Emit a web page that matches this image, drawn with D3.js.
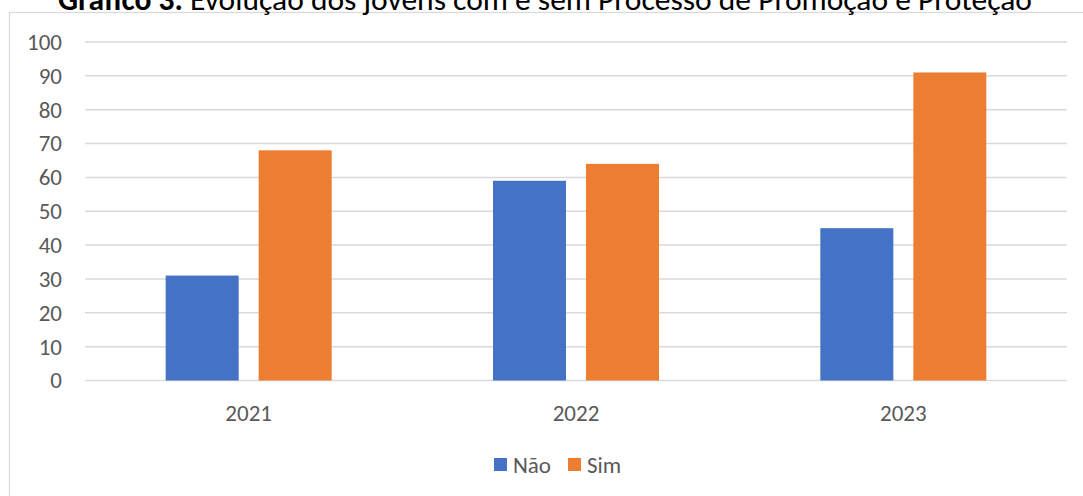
<!DOCTYPE html>
<html>
<head>
<meta charset="utf-8">
<script src="https://cdn.jsdelivr.net/npm/d3@7"></script>
<style>
  html, body { margin: 0; padding: 0; background: #ffffff; overflow: hidden; }
  svg { display: block; }
</style>
</head>
<body>
<svg id="chart" width="1083" height="496"></svg>
<script>
const categories = ["2021", "2022", "2023"];
const seriesNames = ["Não", "Sim"];
const naoValues = [31, 59, 45];
const simValues = [68, 64, 91];
const yTicks = [0, 10, 20, 30, 40, 50, 60, 70, 80, 90, 100];
const titleBold = "Gráfico 3.";
const titleRest = " Evolução dos jovens com e sem Processo de Promoção e Proteção";

const colors = { "Não": "#4472C4", "Sim": "#ED7D31" };
const FONT = "Carlito, Lato, 'Open Sans', sans-serif";
const textColor = "#595959";

const svg = d3.select("#chart");

// chart frame
svg.append("rect")
  .attr("x", 9.5).attr("y", 12.5)
  .attr("width", 1200).attr("height", 600)
  .attr("fill", "none").attr("stroke", "#d9d9d9").attr("stroke-width", 1.3);

// title
const title = svg.append("text")
  .attr("x", 545).attr("y", 10)
  .attr("text-anchor", "middle")
  .attr("font-family", FONT)
  .attr("font-size", 31.5)
  .attr("fill", "#000");
title.append("tspan").attr("font-weight", "bold").text(titleBold);
title.append("tspan").text(titleRest);

const y = d3.scaleLinear().domain([0, 100]).range([380.5, 42]);
const x0 = d3.scaleBand().domain(categories).range([85, 1067]).padding(0);
const groupW = 166;
const x1 = d3.scaleBand().domain(seriesNames).range([0, groupW]).paddingInner(20 / 93).paddingOuter(0);
const groupOffset = (x0.bandwidth() - groupW) / 2;

// gridlines
svg.append("g").selectAll("line").data(yTicks).join("line")
  .attr("x1", 85).attr("x2", 1067)
  .attr("y1", d => y(d)).attr("y2", d => y(d))
  .attr("stroke", "#d9d9d9").attr("stroke-width", 1.5);

// y axis labels
const yAxis = d3.axisLeft(y).tickValues(yTicks).tickSize(0).tickPadding(0);
const yg = svg.append("g").attr("transform", "translate(62,0)").call(yAxis);
yg.select(".domain").remove();
yg.selectAll("text")
  .attr("font-family", FONT).attr("font-size", 23).attr("fill", textColor)
  .attr("dy", "0.32em");

// bars
const data = categories.map((c, i) => ({ cat: c, vals: [
  { s: "Não", v: naoValues[i] }, { s: "Sim", v: simValues[i] } ] }));

const groups = svg.append("g").selectAll("g").data(data).join("g")
  .attr("transform", d => `translate(${x0(d.cat) + groupOffset},0)`);
groups.selectAll("rect").data(d => d.vals).join("rect")
  .attr("x", d => x1(d.s))
  .attr("width", x1.bandwidth())
  .attr("y", d => y(d.v))
  .attr("height", d => y(0) - y(d.v))
  .attr("fill", d => colors[d.s]);

// x axis labels
const xAxis = d3.axisBottom(x0).tickSize(0).tickPadding(0);
const xg = svg.append("g").attr("transform", "translate(0,421)").call(xAxis);
xg.select(".domain").remove();
xg.selectAll("text")
  .attr("font-family", FONT).attr("font-size", 23).attr("fill", textColor)
  .attr("dy", 0).attr("y", 0);

// legend
const legendItems = [
  { s: "Não", x: 494 },
  { s: "Sim", x: 568 }
];
const lg = svg.append("g");
lg.selectAll("rect").data(legendItems).join("rect")
  .attr("x", d => d.x).attr("y", 458)
  .attr("width", 13).attr("height", 13)
  .attr("fill", d => colors[d.s]);
lg.selectAll("text").data(legendItems).join("text")
  .attr("x", d => d.x + 19).attr("y", 473)
  .attr("font-family", FONT).attr("font-size", 23).attr("fill", textColor)
  .text(d => d.s);
</script>
</body>
</html>
